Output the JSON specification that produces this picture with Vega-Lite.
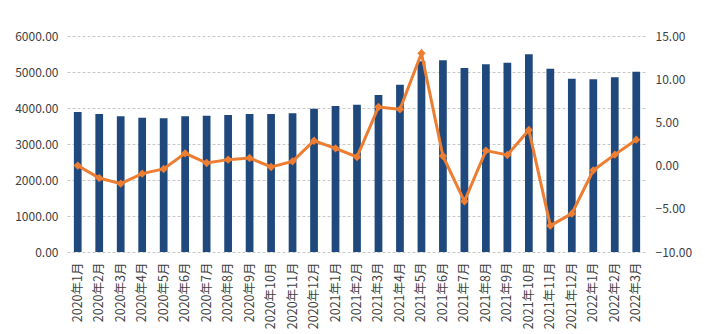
{
  "$schema": "https://vega.github.io/schema/vega-lite/v6.json",
  "autosize": {"type": "none"},
  "padding": {"left": 67, "top": 36, "right": 58, "bottom": 82},
  "width": 580,
  "height": 216,
  "background": "white",
  "config": {
    "view": {"stroke": null},
    "axis": {"labelFont": "Noto Sans CJK SC", "labelColor": "#404040", "domain": false, "ticks": false, "labelFontSize": 12}
  },
  "data": {"values": [
    {"month": "2020年1月", "bar": 3890, "rate": 0.0},
    {"month": "2020年2月", "bar": 3833, "rate": -1.44},
    {"month": "2020年3月", "bar": 3769, "rate": -2.09},
    {"month": "2020年4月", "bar": 3731, "rate": -0.93},
    {"month": "2020年5月", "bar": 3713, "rate": -0.39},
    {"month": "2020年6月", "bar": 3769, "rate": 1.42},
    {"month": "2020年7月", "bar": 3787, "rate": 0.30},
    {"month": "2020年8月", "bar": 3806, "rate": 0.69},
    {"month": "2020年9月", "bar": 3833, "rate": 0.88},
    {"month": "2020年10月", "bar": 3833, "rate": -0.16},
    {"month": "2020年11月", "bar": 3852, "rate": 0.49},
    {"month": "2020年12月", "bar": 3981, "rate": 2.88},
    {"month": "2021年1月", "bar": 4056, "rate": 2.0},
    {"month": "2021年2月", "bar": 4090, "rate": 1.0},
    {"month": "2021年3月", "bar": 4361, "rate": 6.78},
    {"month": "2021年4月", "bar": 4648, "rate": 6.51},
    {"month": "2021年5月", "bar": 5300, "rate": 13.0},
    {"month": "2021年6月", "bar": 5324, "rate": 1.11},
    {"month": "2021年7月", "bar": 5111, "rate": -4.13},
    {"month": "2021年8月", "bar": 5213, "rate": 1.73},
    {"month": "2021年9月", "bar": 5259, "rate": 1.23},
    {"month": "2021年10月", "bar": 5491, "rate": 4.12},
    {"month": "2021年11月", "bar": 5093, "rate": -6.95},
    {"month": "2021年12月", "bar": 4815, "rate": -5.56},
    {"month": "2022年1月", "bar": 4796, "rate": -0.55},
    {"month": "2022年2月", "bar": 4852, "rate": 1.27},
    {"month": "2022年3月", "bar": 5009, "rate": 3.0}
  ]},
  "encoding": {
    "x": {"field": "month", "type": "nominal", "sort": null,
      "scale": {"paddingInner": 0.64, "paddingOuter": 0.32},
      "axis": {"title": null, "labelAngle": -90, "labelPadding": 10, "grid": false, "labelFontSize": 12.5}}
  },
  "layer": [
    {
      "mark": {"type": "bar", "color": "#1F497D"},
      "encoding": {
        "y": {"field": "bar", "type": "quantitative",
          "scale": {"domain": [0, 6000], "nice": false},
          "axis": {"title": null, "values": [0, 1000, 2000, 3000, 4000, 5000, 6000], "format": ".2f", "labelPadding": 9,
            "grid": true, "gridColor": "#c8c8c8", "gridDash": [3, 2], "gridWidth": 1}}
      }
    },
    {
      "mark": {"type": "line", "color": "#ED7D31", "strokeWidth": 3, "point": {"shape": "diamond", "size": 70, "filled": true, "color": "#ED7D31"}},
      "encoding": {
        "y": {"field": "rate", "type": "quantitative",
          "scale": {"domain": [-10, 15], "nice": false},
          "axis": {"title": null, "orient": "right", "values": [-10, -5, 0, 5, 10, 15], "format": ".2f", "labelPadding": 8, "grid": false}}
      }
    }
  ],
  "resolve": {"scale": {"y": "independent"}}
}
